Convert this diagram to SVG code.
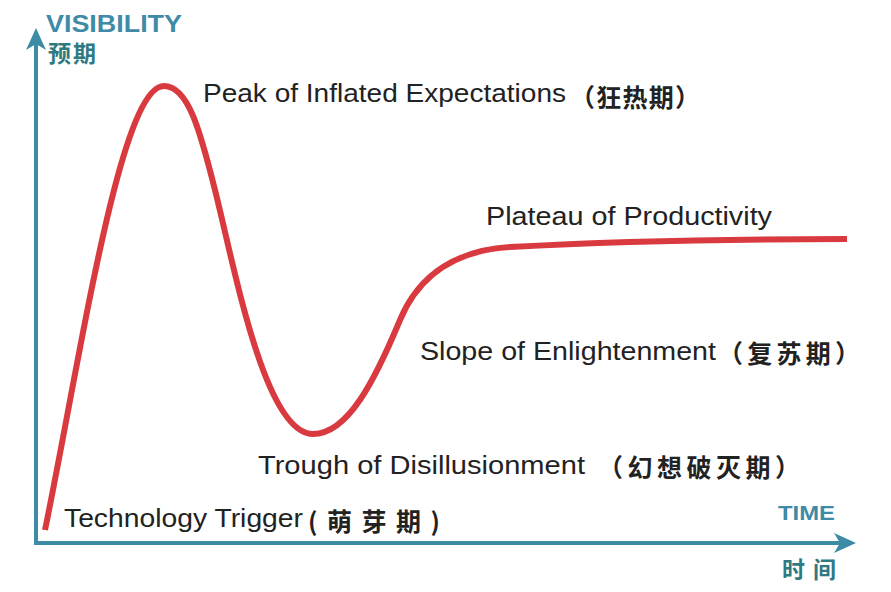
<svg xmlns="http://www.w3.org/2000/svg" width="891" height="592" viewBox="0 0 891 592">
<style>
.lbl{font-family:"Liberation Sans","Noto Sans CJK SC",sans-serif;font-size:26px;fill:#222}
.cjk{font-family:"Noto Sans CJK SC",sans-serif;font-size:25px;font-weight:bold;fill:#222}
.axt{font-family:"Liberation Sans",sans-serif;font-weight:bold;fill:#3f8aa6}
.axc{font-family:"Noto Sans CJK SC",sans-serif;font-size:23px;font-weight:bold;fill:#2f7a80}
.axis{stroke:#3d8ca6;stroke-width:4;fill:none}
.head{fill:#3d8ca6}
</style>
<rect width="891" height="592" fill="#fff"/>
<g id="axes">
  <line class="axis" x1="36" y1="543" x2="36" y2="42"/>
  <line class="axis" x1="34" y1="543" x2="842" y2="543"/>
  <path class="head" d="M36,28 L46,50 L36,44 L26,50 Z"/>
  <path class="head" d="M856,543 L834,533 L840,543 L834,553 Z"/>
  <text class="axt" x="46" y="32" font-size="24" textLength="136" lengthAdjust="spacingAndGlyphs">VISIBILITY</text>
  <text class="axc" x="48" y="62" letter-spacing="2">预期</text>
  <text class="axt" x="778" y="520" font-size="20" textLength="57" lengthAdjust="spacingAndGlyphs">TIME</text>
  <text class="axc" x="782" y="578" letter-spacing="8">时间</text>
</g>
<g id="curve">
  <path d="M45,530 C80,360 120,86 164,86 C188,86 200,130 215,190 C235,270 265,434 313,434 C348,434 375,380 400,320 C420,272 460,250 510,247 C600,242 700,239 847,239" fill="none" stroke="#d93a40" stroke-width="6" stroke-linecap="butt" stroke-linejoin="round"/>
</g>
<g id="peak">
  <text class="lbl" x="203" y="102" textLength="363" lengthAdjust="spacingAndGlyphs">Peak of Inflated Expectations</text>
  <text class="cjk" x="570" y="107" textLength="130" lengthAdjust="spacing">（狂热期）</text>
</g>
<g id="plateau">
  <text class="lbl" x="486" y="225" textLength="286" lengthAdjust="spacingAndGlyphs">Plateau of Productivity</text>
</g>
<g id="slope">
  <text class="lbl" x="420" y="360" textLength="296" lengthAdjust="spacingAndGlyphs">Slope of Enlightenment</text>
  <text class="cjk" x="718" y="363" textLength="142" lengthAdjust="spacing">（复苏期）</text>
</g>
<g id="trough">
  <text class="lbl" x="258" y="474" textLength="327" lengthAdjust="spacingAndGlyphs">Trough of Disillusionment</text>
  <text class="cjk" x="598" y="477" textLength="202" lengthAdjust="spacing">（幻想破灭期）</text>
</g>
<g id="trigger">
  <text class="lbl" x="64" y="527" textLength="239" lengthAdjust="spacingAndGlyphs">Technology Trigger</text>
  <text class="cjk" x="308" y="531" font-size="27" textLength="132" lengthAdjust="spacing">(萌芽期)</text>
</g>
</svg>
